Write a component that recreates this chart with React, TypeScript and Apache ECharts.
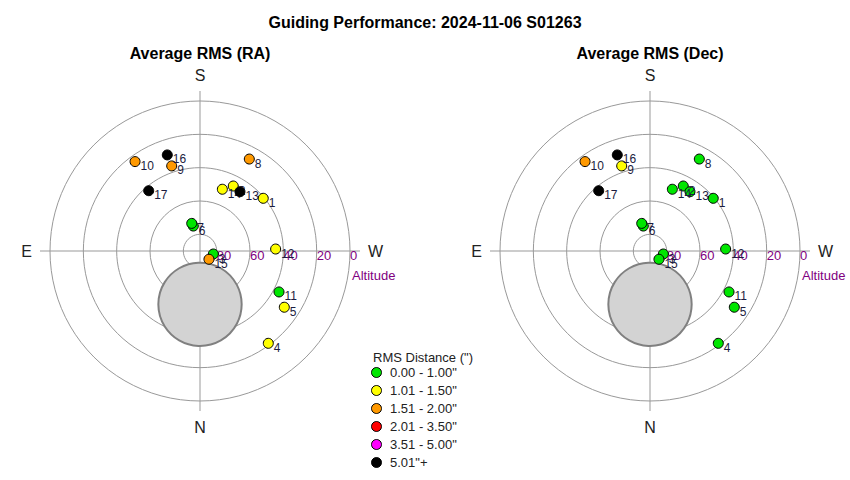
import React, { useEffect, useRef } from "react";
import * as echarts from "echarts";

// ---- data ----
const pointIds = ["1", "2", "3", "4", "5", "6", "7", "8", "9", "10", "11", "12", "13", "14", "15", "16", "17"];
const azimuthDeg = [230.2, 207.1, 282.7, 323.5, 303.7, 165.0, 163.3, 208.2, 161.6, 144.0, 297.4, 268.5, 214.0, 199.9, 312.7, 161.2, 139.6];
const altitudeDeg = [40.6, 46.2, 81.8, 21.1, 29.2, 74.5, 72.7, 27.4, 36.2, 23.7, 36.6, 44.6, 47.1, 50.6, 82.7, 29.1, 42.5];
// RMS bin index per point (0: 0-1", 1: 1.01-1.5", 2: 1.51-2", 3: 2.01-3.5", 4: 3.51-5", 5: 5.01"+)
const raBins = [1, 1, 0, 1, 1, 0, 0, 2, 2, 2, 0, 1, 5, 1, 2, 5, 5];
const decBins = [0, 0, 0, 0, 0, 0, 0, 0, 1, 2, 0, 0, 0, 0, 0, 5, 5];
const binLabels = ['0.00 - 1.00"', '1.01 - 1.50"', '1.51 - 2.00"', '2.01 - 3.50"', '3.51 - 5.00"', '5.01"+'];
const binColors = ["#00e600", "#ffff00", "#ff9900", "#ff0000", "#ff00ff", "#000000"];
const compassLabels: Record<number, string> = { 0: "N", 90: "E", 180: "S", 270: "W" };
const altitudeTicks = [0, 20, 40, 60, 80];
// obstruction (grey disk): centre az/alt and radius in degrees
const obstructionAz = [0];
const obstructionAlt = [58];
const obstructionRadius = [25];
const chartTitles = ["Average RMS (RA)", "Average RMS (Dec)"];
const mainTitle = "Guiding Performance: 2024-11-06 S01263";
const legendTitle = 'RMS Distance (")';

const FONT = "'Liberation Sans', Arial, sans-serif";
const centers: [number, number][] = [
  [200, 251],
  [650, 251],
];
const mapAz = (az: number) => (az < 270 ? az + 360 : az);

function buildOption() {
  const binsPerChart = [raBins, decBins];
  const series: any[] = [];
  [0, 1].forEach((ci) => {
    series.push({
      type: "custom",
      coordinateSystem: "polar",
      polarIndex: ci,
      z: 1,
      silent: true,
      data: obstructionAz.map((az, k) => [obstructionAlt[k], mapAz(az), obstructionRadius[k]]),
      renderItem: (params: any, api: any) => {
        const alt = api.value(0);
        const az = api.value(1);
        const rad = api.value(2);
        const c = api.coord([alt, az]);
        const e = api.coord([alt - rad, az]);
        const r = Math.hypot(e[0] - c[0], e[1] - c[1]);
        return {
          type: "circle",
          shape: { cx: c[0], cy: c[1], r },
          style: { fill: "#d3d3d3", stroke: "#808080", lineWidth: 2 },
        };
      },
    });
    binLabels.forEach((label, b) => {
      const data = pointIds
        .map((id, k) => ({ id, k }))
        .filter(({ k }) => binsPerChart[ci][k] === b)
        .map(({ id, k }) => ({ name: id, value: [altitudeDeg[k], mapAz(azimuthDeg[k])] }));
      series.push({
        type: "scatter",
        name: label,
        coordinateSystem: "polar",
        polarIndex: ci,
        z: 3 + b,
        symbol: "circle",
        symbolSize: 10,
        itemStyle: { color: binColors[b], borderColor: "#000", borderWidth: 1, opacity: 1 },
        label: {
          show: true,
          position: [11, 10],
          align: "left",
          verticalAlign: "middle",
          fontSize: 12,
          fontFamily: FONT,
          color: "#1c1c40",
          formatter: (p: any) => p.name,
        },
        emphasis: { disabled: true },
        data,
      });
    });
  });

  return {
    animation: false,
    backgroundColor: "#ffffff",
    title: [
      {
        text: mainTitle,
        left: "center",
        top: 9,
        textStyle: { fontSize: 16, fontWeight: "bold", color: "#000", fontFamily: FONT },
      },
      ...chartTitles.map((t, i) => ({
        text: t,
        left: centers[i][0],
        top: 45,
        padding: 0,
        textAlign: "center",
        textStyle: { fontSize: 16, fontWeight: "bold", color: "#000", fontFamily: FONT },
      })),
      {
        text: legendTitle,
        left: 373,
        top: 351,
        padding: 0,
        textStyle: { fontSize: 13, fontWeight: "normal", color: "#222", fontFamily: FONT },
      },
    ],
    legend: {
      data: binLabels,
      orient: "vertical",
      left: 371,
      top: 366,
      itemWidth: 17,
      itemHeight: 10,
      itemGap: 5,
      icon: "circle",
      selectedMode: false,
      padding: 0,
      itemStyle: { borderColor: "#000", borderWidth: 1 },
      textStyle: { fontSize: 13, color: "#222", fontFamily: FONT },
    },
    polar: centers.map((c) => ({ center: c, radius: 150 })),
    angleAxis: [0, 1].map((i) => ({
      polarIndex: i,
      type: "value",
      min: 270,
      max: 630,
      interval: 90,
      startAngle: 0,
      clockwise: true,
      axisLine: { show: false },
      axisTick: { show: true, length: 10, lineStyle: { color: "#999" } },
      axisLabel: {
        margin: 18,
        color: "#222",
        fontSize: 16,
        fontFamily: FONT,
        formatter: (v: number) => (v === 630 ? "" : compassLabels[v % 360] ?? ""),
      },
      splitLine: { show: true, lineStyle: { color: "#999", width: 1 } },
    })),
    radiusAxis: [0, 1].map((i) => ({
      polarIndex: i,
      type: "value",
      min: 0,
      max: 90,
      interval: 20,
      inverse: true,
      axisLine: { show: false },
      axisTick: { show: false },
      axisLabel: {
        color: "#800080",
        fontSize: 13,
        fontFamily: FONT,
        align: "left",
        verticalAlign: "top",
        margin: 2,
        formatter: (v: number) => (altitudeTicks.includes(v) ? String(v) : ""),
      },
      splitLine: { show: true, lineStyle: { color: "#999", width: 1 } },
      name: "Altitude",
      nameLocation: "start",
      nameGap: 2,
      nameTextStyle: {
        color: "#800080",
        fontSize: 13,
        fontFamily: FONT,
        align: "left",
        verticalAlign: "top",
        padding: [18, 0, 0, 0],
      },
    })),
    series,
  };
}

export default function App() {
  const ref = useRef<HTMLDivElement>(null);
  useEffect(() => {
    if (!ref.current) return;
    const chart = echarts.init(ref.current, undefined, { renderer: "svg" });
    chart.setOption(buildOption() as any);
    return () => chart.dispose();
  }, []);
  return (
    <div
      ref={ref}
      style={{ position: "fixed", left: 0, top: 0, width: 850, height: 480, background: "#fff" }}
    />
  );
}
